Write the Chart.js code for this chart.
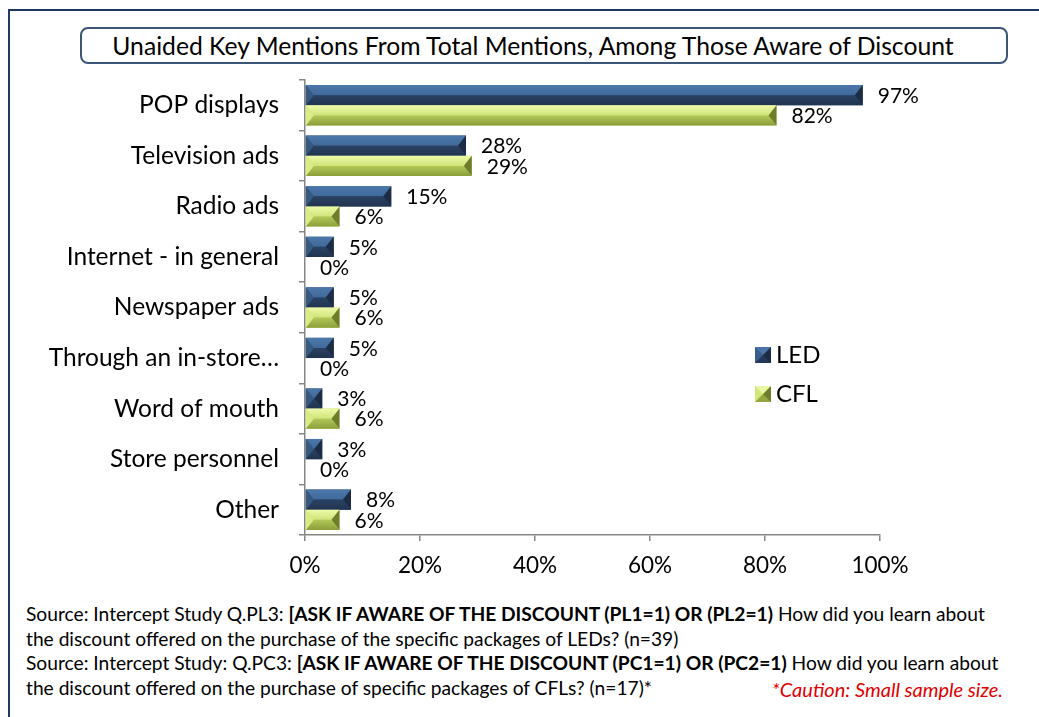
<!DOCTYPE html>
<html>
<head>
<meta charset="utf-8">
<script src="https://cdn.jsdelivr.net/npm/chart.js@4.4.1/dist/chart.umd.min.js"></script>
<style>
    body { margin: 0; width: 1039px; height: 717px; overflow: hidden; background: #fff; font-family: Lato, "Open Sans", sans-serif; position: relative; }
    .frame { position: absolute; left: 8px; top: 9px; width: 1100px; height: 800px; border: 2px solid #1f3a5f; }
    .title { position: absolute; left: 80px; top: 27px; width: 902px; padding-right: 22px; height: 33px; border: 2px solid #3b5678; border-radius: 8px; font-size: 24.7px; line-height: 33px; text-align: center; color: #000; }
    #chartWrap { position: absolute; left: 0; top: 0; width: 1039px; height: 600px; }
    .legend { position: absolute; left: 755px; font-size: 24px; color: #000; line-height: 24px; }
    .legend .sw { display: inline-block; width: 0; height: 0; border-style: solid; border-width: 8px; vertical-align: middle; margin-right: 5px; margin-top: -3px; }
    .notes { position: absolute; left: 26px; top: 602px; font-size: 19.2px; line-height: 24.7px; color: #000; white-space: nowrap; }
    .caution { position: absolute; right: 36px; top: 677px; font-size: 20px; color: #e00000; font-style: italic; }
</style>
</head>
<body>
<div class="frame"></div>
<div class="title">Unaided Key Mentions From Total Mentions, Among Those Aware of Discount</div>
<div id="chartWrap"><canvas id="barChart" width="1039" height="600"></canvas></div>
<div class="legend" style="top:342px"><span class="sw" style="border-color:#4a74a6 #1c2c44 #24395a #3a5e8a"></span>LED</div>
<div class="legend" style="top:381px"><span class="sw" style="border-color:#e8f7a0 #6e7d2c #94a840 #d3e67c"></span>CFL</div>
<div class="notes">
    Source: Intercept Study Q.PL3: <b>[ASK IF AWARE OF THE DISCOUNT (PL1=1) OR (PL2=1)</b> How did you learn about<br>
    the discount offered on the purchase of the specific packages of LEDs? (n=39)<br>
    Source: Intercept Study: Q.PC3: <b>[ASK IF AWARE OF THE DISCOUNT (PC1=1) OR (PC2=1)</b> How did you learn about<br>
    the discount offered on the purchase of specific packages of CFLs? (n=17)*
</div>
<div class="caution">*Caution: Small sample size.</div>

<script>
const categories = ['POP displays', 'Television ads', 'Radio ads', 'Internet - in general', 'Newspaper ads',
    'Through an in-store…', 'Word of mouth', 'Store personnel', 'Other'];
const ledValues = [97, 28, 15, 5, 5, 5, 3, 3, 8];
const cflValues = [82, 29, 6, 0, 6, 0, 6, 0, 6];
const xTicks = [0, 20, 40, 60, 80, 100];

const FONT = 'Lato, "Open Sans", sans-serif';

// bevel colours per dataset: top, bottom, left end, right end
const bevels = [
    { top: ['#4c77aa', '#406a9a'], bottom: ['#2a4264', '#21344f'], left: '#37597f', right: '#1c2c44' },
    { top: ['#eefaa8', '#cfe37a'], bottom: ['#b2c857', '#8b9e3a'], left: '#d8eb84', right: '#6e7d2c' }
];

function poly(ctx, pts, fill) {
    ctx.beginPath();
    ctx.moveTo(pts[0][0], pts[0][1]);
    for (let i = 1; i < pts.length; i++) ctx.lineTo(pts[i][0], pts[i][1]);
    ctx.closePath();
    ctx.fillStyle = fill;
    ctx.fill();
}

const bevelAndLabels = {
    id: 'bevelAndLabels',
    afterDatasetsDraw(chart) {
        const ctx = chart.ctx;
        chart.data.datasets.forEach((ds, di) => {
            const meta = chart.getDatasetMeta(di);
            const c = bevels[di];
            meta.data.forEach((bar, i) => {
                const x0 = bar.base, x1 = bar.x;
                const y0 = bar.y - bar.height / 2, y1 = bar.y + bar.height / 2, ym = bar.y;
                const w = x1 - x0;
                if (w > 0.5) {
                    const b = Math.min(8, w / 2);
                    let g = ctx.createLinearGradient(0, y0, 0, ym);
                    g.addColorStop(0, c.top[0]); g.addColorStop(1, c.top[1]);
                    poly(ctx, [[x0, y0], [x1, y0], [x1 - b, ym], [x0 + b, ym]], g);
                    g = ctx.createLinearGradient(0, ym, 0, y1);
                    g.addColorStop(0, c.bottom[0]); g.addColorStop(1, c.bottom[1]);
                    poly(ctx, [[x0, y1], [x1, y1], [x1 - b, ym], [x0 + b, ym]], g);
                    poly(ctx, [[x0, y0], [x0 + b, ym], [x0, y1]], c.left);
                    poly(ctx, [[x1, y0], [x1 - b, ym], [x1, y1]], c.right);
                }
                ctx.save();
                ctx.font = '21px ' + FONT;
                ctx.fillStyle = '#000';
                ctx.textAlign = 'left';
                ctx.textBaseline = 'middle';
                ctx.fillText(ds.data[i] + '%', x1 + 15, ym + 1);
                ctx.restore();
            });
        });
    }
};

new Chart(document.getElementById('barChart'), {
    type: 'bar',
    data: {
        labels: categories,
        datasets: [
            { label: 'LED', data: ledValues, backgroundColor: '#33507a' },
            { label: 'CFL', data: cflValues, backgroundColor: '#c2d86a' }
        ]
    },
    options: {
        indexAxis: 'y',
        responsive: false,
        animation: false,
        devicePixelRatio: 1,
        categoryPercentage: 0.8,
        barPercentage: 1,
        layout: { padding: { top: 80, right: 159, bottom: 0, left: 0 } },
        plugins: { legend: { display: false }, tooltip: { enabled: false } },
        scales: {
            x: {
                min: 0, max: 100,
                afterBuildTicks: s => { s.ticks = xTicks.map(v => ({ value: v })); },
                afterFit: s => { s.height = 65; },
                grid: { drawOnChartArea: false, tickLength: 6, color: '#868686', lineWidth: 1.5 },
                border: { color: '#868686', width: 1.5 },
                ticks: { padding: 11, color: '#000', font: { family: FONT, size: 22.5 }, callback: v => v + '%' }
            },
            y: {
                afterFit: s => { s.width = 305; },
                grid: { offset: true, drawOnChartArea: false, tickLength: 6, color: '#868686', lineWidth: 1.5 },
                border: { color: '#868686', width: 1.5 },
                ticks: { padding: 20, color: '#000', font: { family: FONT, size: 24.5 } }
            }
        }
    },
    plugins: [bevelAndLabels]
});
</script>
</body>
</html>
